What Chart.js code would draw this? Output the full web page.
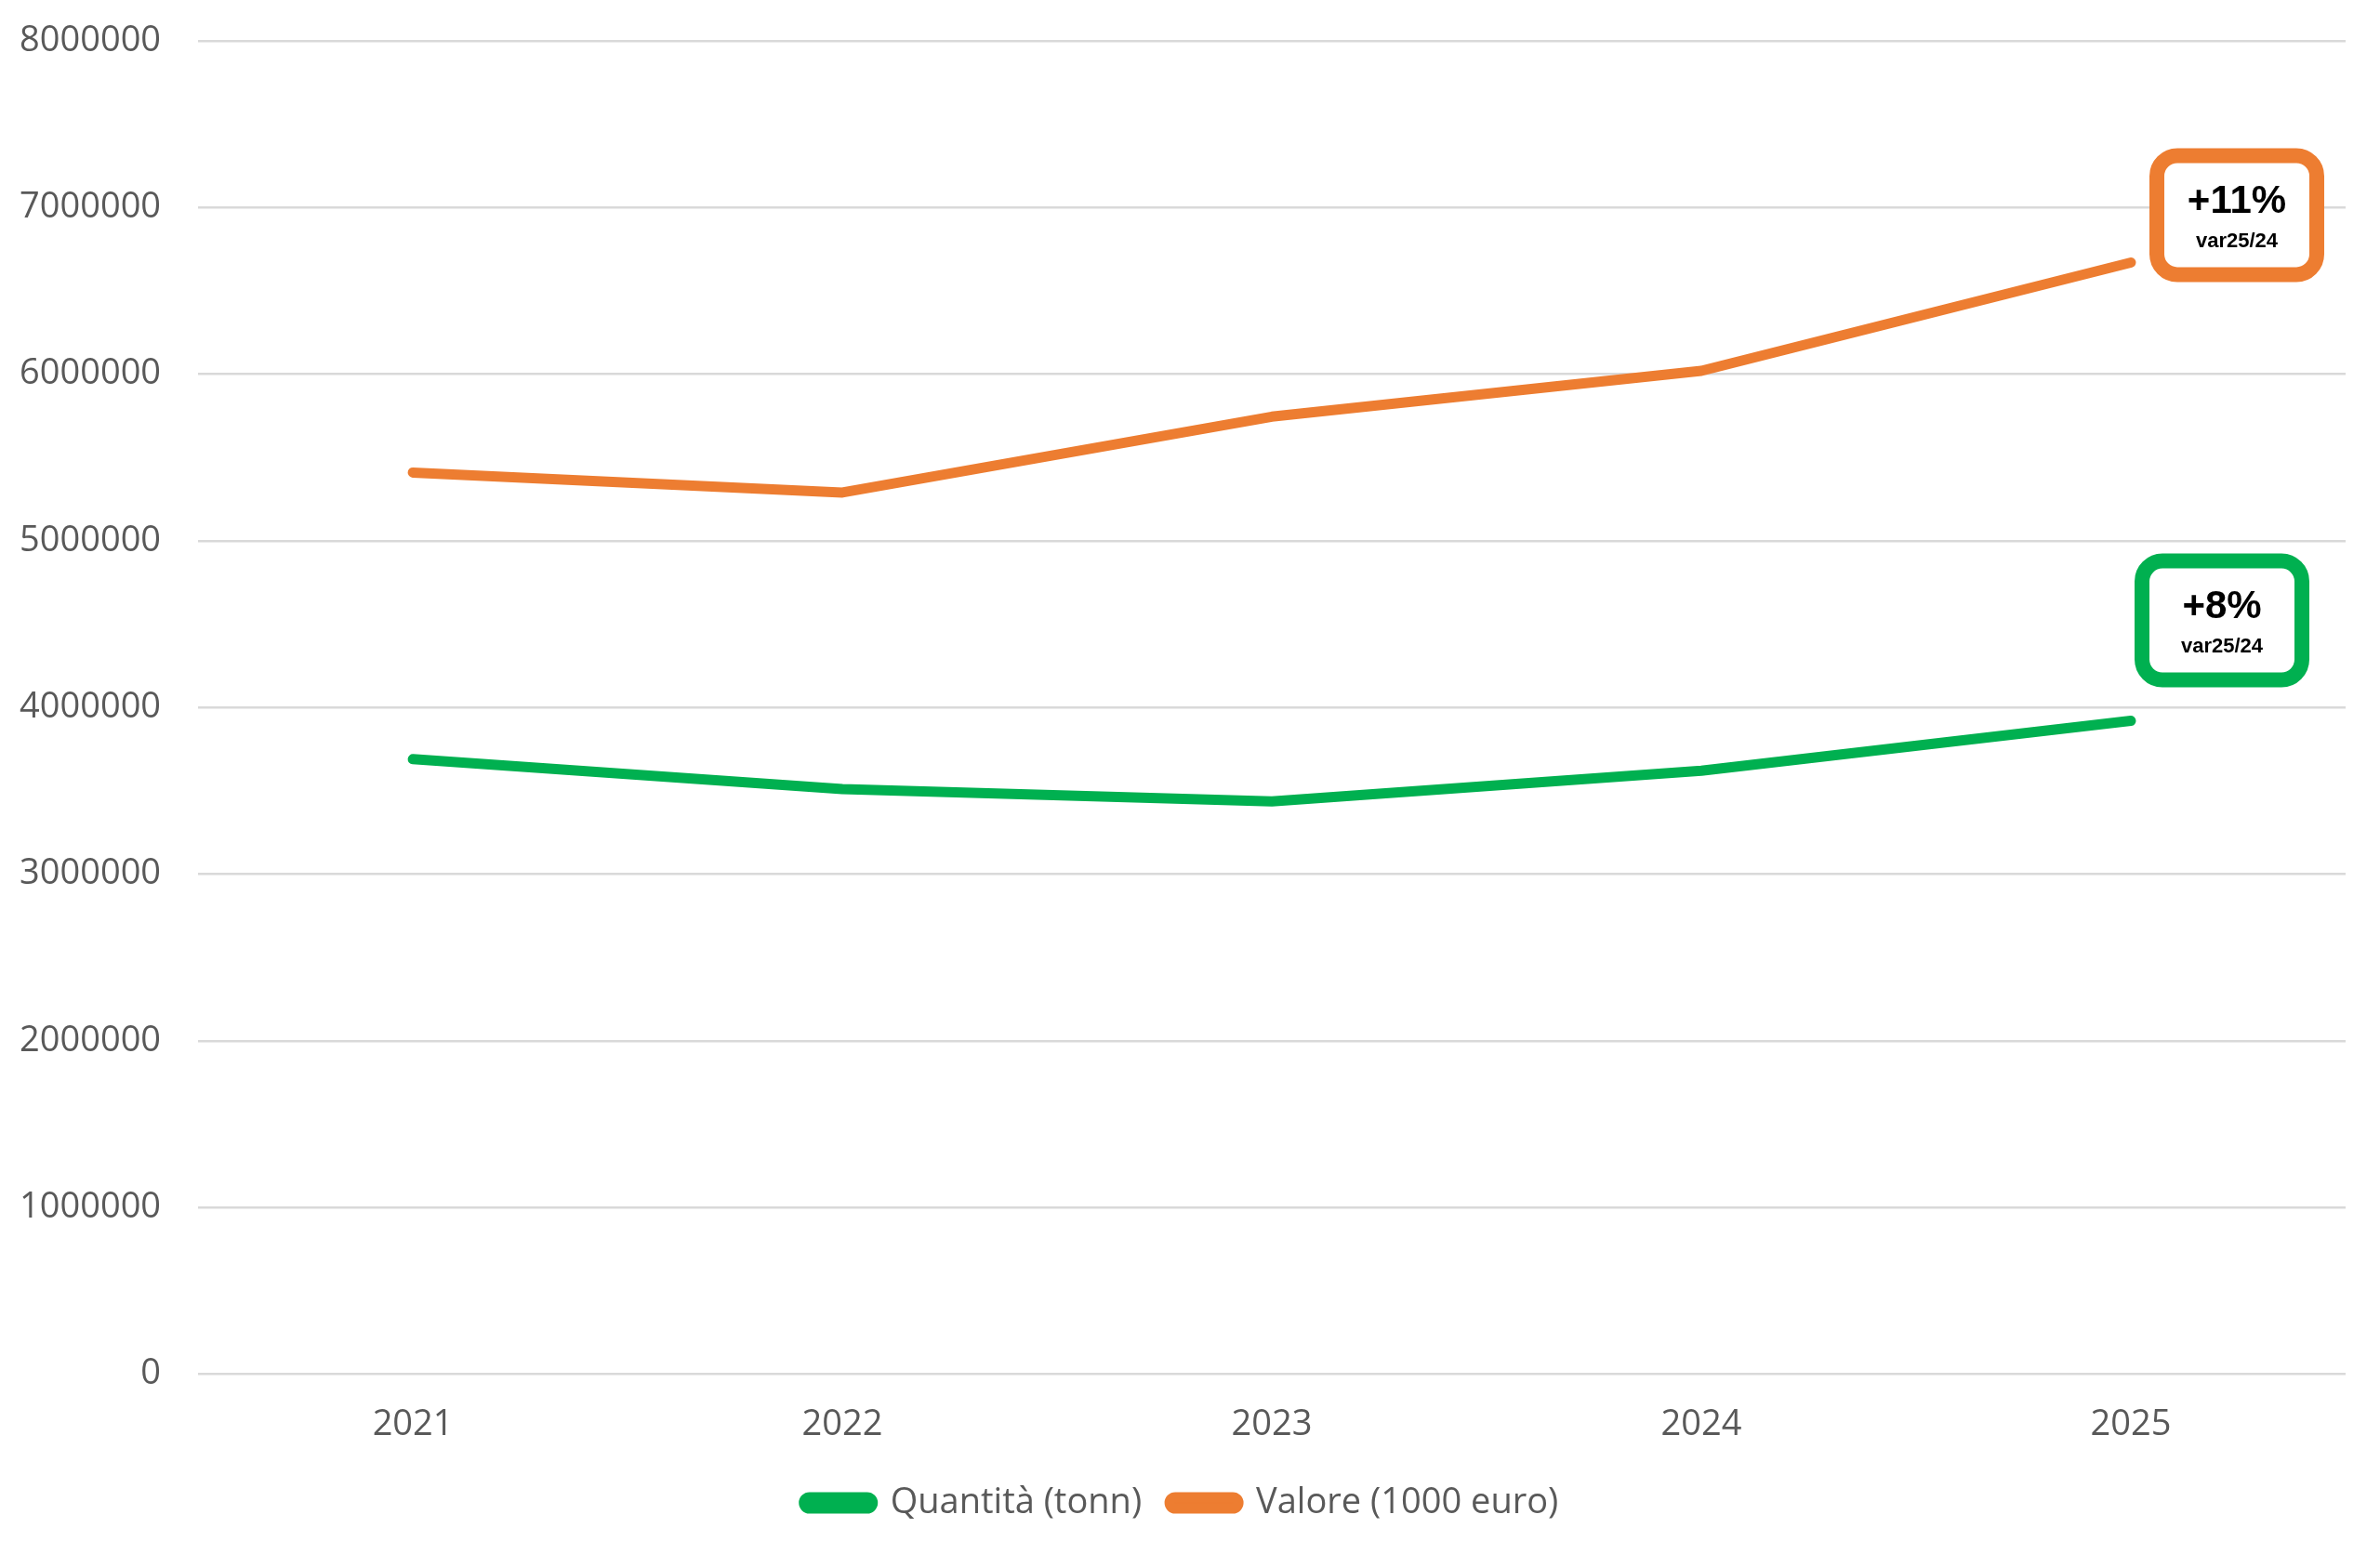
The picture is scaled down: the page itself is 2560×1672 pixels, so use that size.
<!DOCTYPE html>
<html>
<head>
<meta charset="utf-8">
<script src="https://cdn.jsdelivr.net/npm/chart.js@4.4.1/dist/chart.umd.min.js"></script>
<style>
  html, body { margin: 0; padding: 0; background: #fff; }
  #wrap { width: 2560px; height: 1672px; }
</style>
</head>
<body>
<div id="wrap"><canvas id="lineChart"></canvas></div>
<script>
const years = ['2021', '2022', '2023', '2024', '2025'];
const quantita = [3690000, 3510000, 3436000, 3620000, 3920000];
const valore = [5410000, 5290000, 5745000, 6020000, 6670000];
const yTicks = [0, 1000000, 2000000, 3000000, 4000000, 5000000, 6000000, 7000000, 8000000];
const badgeTexts = ['+8%', '+11%'];
const badgeSub = 'var25/24';

const GREEN = '#00B050';
const ORANGE = '#ED7D31';

// draws the "var25/24" boxes next to the last point of each line
const badgePlugin = {
  id: 'badges',
  afterDatasetsDraw(chart, args, opts) {
    const ctx = chart.ctx;
    opts.items.forEach(item => {
      const meta = chart.getDatasetMeta(item.dataset);
      const last = meta.data[meta.data.length - 1];
      const cx = last.x + item.dx;
      const cy = last.y + item.dy;
      const w = 172, h = 128, r = 22;
      ctx.save();
      ctx.beginPath();
      ctx.roundRect(cx - w / 2, cy - h / 2, w, h, r);
      ctx.fillStyle = '#fff';
      ctx.fill();
      ctx.lineWidth = 16;
      ctx.strokeStyle = item.color;
      ctx.stroke();
      ctx.fillStyle = '#000';
      ctx.textAlign = 'center';
      ctx.textBaseline = 'middle';
      ctx.font = 'bold 42px "Liberation Sans", Arial, sans-serif';
      ctx.fillText(item.text, cx, cy - 14);
      ctx.font = 'bold 22px "Liberation Sans", Arial, sans-serif';
      ctx.fillText(badgeSub, cx, cy + 28);
      ctx.restore();
    });
  }
};

const ctx = document.getElementById('lineChart').getContext('2d');
new Chart(ctx, {
  type: 'line',
  data: {
    labels: years,
    datasets: [{
      label: 'Quantità (tonn)',
      data: quantita,
      borderColor: GREEN,
      backgroundColor: GREEN,
      borderWidth: 11,
      borderCapStyle: 'round',
      borderJoinStyle: 'round',
      pointRadius: 0,
      tension: 0
    }, {
      label: 'Valore (1000 euro)',
      data: valore,
      borderColor: ORANGE,
      backgroundColor: ORANGE,
      borderWidth: 11,
      borderCapStyle: 'round',
      borderJoinStyle: 'round',
      pointRadius: 0,
      tension: 0
    }]
  },
  options: {
    responsive: true,
    maintainAspectRatio: false,
    animation: false,
    layout: { padding: { left: 18, right: 37, top: 44, bottom: 26 } },
    scales: {
      x: {
        offset: true,
        grid: { display: false },
        border: { display: false },
        ticks: {
          color: '#595959',
          padding: 24,
          font: { family: '"Open Sans", sans-serif', size: 38 }
        },
        // trim the empty space under the year labels
        afterFit(scale) { scale.height -= 12; }
      },
      y: {
        min: 0,
        max: 8000000,
        afterBuildTicks(axis) { axis.ticks = yTicks.map(v => ({ value: v })); },
        // invisible ticks give the gap between labels and plot
        grid: { color: '#D9D9D9', lineWidth: 2.5, drawTicks: true, tickLength: 37, tickColor: 'rgba(0,0,0,0)' },
        border: { display: false },
        ticks: {
          color: '#595959',
          padding: 3,
          font: { family: '"Open Sans", sans-serif', size: 38 },
          callback: v => String(v)
        }
      }
    },
    plugins: {
      legend: {
        position: 'bottom',
        labels: {
          color: '#595959',
          boxWidth: 74,
          boxHeight: 12,
          useBorderRadius: true,
          borderRadius: 6,
          padding: 30,
          font: { family: '"Open Sans", sans-serif', size: 38 }
        }
      },
      tooltip: { enabled: false },
      badges: {
        items: [
          { dataset: 0, text: badgeTexts[0], color: GREEN, dx: 98, dy: -108 },
          { dataset: 1, text: badgeTexts[1], color: ORANGE, dx: 114, dy: -51 }
        ]
      }
    }
  },
  plugins: [badgePlugin]
});
</script>
</body>
</html>
